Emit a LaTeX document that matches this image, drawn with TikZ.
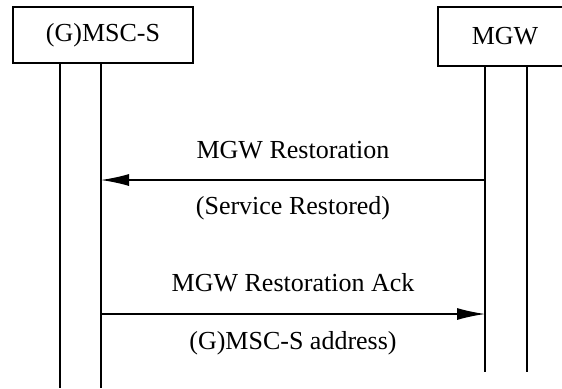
\documentclass[tikz,border=0pt]{standalone}
\usepackage{fontspec}
\setmainfont{Liberation Serif}
\usetikzlibrary{arrows.meta, positioning}

\begin{document}
\begin{tikzpicture}[
  x=0.5pt, y=-0.5pt,
  entity/.style={draw, line width=0.6pt, inner sep=0pt, minimum height=28pt,
                 font=\fontsize{13}{15}\selectfont},
  life/.style={line width=0.6pt},
  msg/.style={-{Latex[length=14pt, width=6pt]}, line width=0.6pt},
  lbl/.style={font=\fontsize{13}{15}\selectfont}
]
\clip (0,0) rectangle (562,388);

\node[entity, minimum width=90pt] (msc) at (103,35)   {(G)MSC-S};
\node[entity, minimum width=67pt, minimum height=29.5pt] (mgw) at (505,36.5) {MGW};

% lifelines
\coordinate (mscL) at (60,388);  \coordinate (mscR) at (101,388);
\coordinate (mgwL) at (485,372); \coordinate (mgwR) at (527,372);
\draw[life] (mscL |- msc.south) -- (mscL);
\draw[life] (mscR |- msc.south) -- (mscR);
\draw[life] (mgwL |- mgw.south) -- (mgwL);
\draw[life] (mgwR |- mgw.south) -- (mgwR);

% messages
\coordinate (restA) at (485,180); \coordinate (restB) at (101,180);
\coordinate (ackA)  at (101,314); \coordinate (ackB)  at (485,314);
\draw[msg] (restA) -- (restB);
\draw[msg] (ackA) -- (ackB);

\node[lbl] (rest)    at (293,150) {MGW Restoration};
\node[lbl] (restarg) at (293,208) {(Service Restored)};
\node[lbl] (ack)     at (293,283) {MGW Restoration Ack};
\node[lbl] (ackarg)  at (293,343) {(G)MSC-S address)};
\end{tikzpicture}
\end{document}
